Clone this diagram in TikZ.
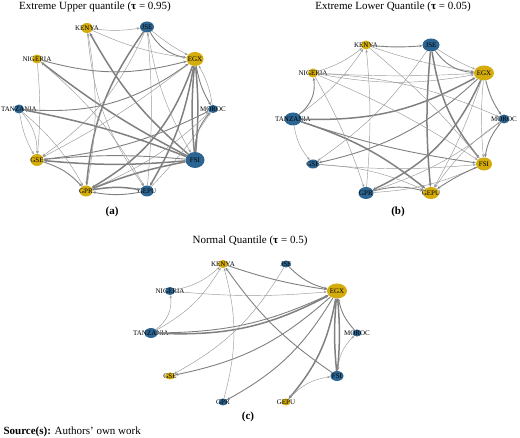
\documentclass[tikz,border=0pt]{standalone}
\usepackage{fontspec}
\setmainfont{Liberation Serif}
\usepackage{xcolor}
\usepackage{tikz}
\usetikzlibrary{shapes.geometric, arrows.meta}

\definecolor{qyellow}{RGB}{212,172,12}
\definecolor{qblue}{RGB}{44,101,145}
\definecolor{qedge}{RGB}{128,128,128}
\newcommand{\nl}[1]{\makebox[0pt]{#1}}

\begin{document}
\begin{tikzpicture}[
    x=1pt, y=-1pt,
    % Network nodes
    yel/.style={ellipse, fill=qyellow, inner sep=0pt, font=\fontsize{7}{8}\selectfont},
    blu/.style={ellipse, fill=qblue, inner sep=0pt, font=\fontsize{7}{8}\selectfont},
    % Edges
    lite/.style={draw=qedge!80, line width=0.45pt, -{Stealth[length=3pt,width=2.4pt]}},
    med/.style={draw=qedge, line width=0.9pt, -{Stealth[length=3.2pt,width=2.6pt]}},
    heavy/.style={draw=qedge, line width=1.5pt, -{Stealth[length=3.5pt,width=3pt]}},
    % Captions
    ttl/.style={font=\fontsize{11}{13}\selectfont},
    tag/.style={font=\fontsize{11}{13}\selectfont\bfseries}
]
    \useasboundingbox (0,0) rectangle (520,438);

    % Panel (a): Extreme Upper quantile
    \node[ttl] (a-title) at (95,7) {Extreme Upper quantile (\textbf{τ} = 0.95)};
    \node[yel, minimum width=12, minimum height=10] (a-ken) at (87,28) {\nl{KENYA}};
    \node[blu, minimum width=14, minimum height=11] (a-jse) at (147,27) {\nl{JSE}};
    \node[yel, minimum width=17, minimum height=14] (a-egx) at (195,59) {\nl{EGX}};
    \node[blu, minimum width=10, minimum height=8] (a-mor) at (213,109) {\nl{MOROC}};
    \node[blu, minimum width=19, minimum height=16] (a-fsi) at (195,160) {\nl{FSI}};
    \node[blu, minimum width=13, minimum height=11] (a-gep) at (147,191) {\nl{GEPU}};
    \node[yel, minimum width=13, minimum height=11] (a-gpr) at (86,191) {\nl{GPR}};
    \node[yel, minimum width=13, minimum height=12] (a-gse) at (37,160) {\nl{GSE}};
    \node[blu, minimum width=10, minimum height=9] (a-tan) at (19,109) {\nl{TANZANIA}};
    \node[yel, minimum width=10, minimum height=9] (a-nig) at (37,59) {\nl{NIGERIA}};
    \node[tag] (a-tag) at (112,212) {(a)};

    \draw[lite] (a-ken) to[bend right=8] (a-jse);
    \draw[med] (a-jse) to[bend right=25] (a-egx);
    \draw[lite] (a-jse) to[bend right=5] (a-egx);
    \draw[lite] (a-ken) to[bend right=8] (a-egx);
    \draw[med] (a-nig) to[bend right=15] (a-egx);
    \draw[med] (a-tan) to[bend right=20] (a-egx);
    \draw[heavy] (a-fsi) to[bend left=10] (a-ken);
    \draw[heavy] (a-fsi) to[bend left=5] (a-nig);
    \draw[heavy] (a-fsi) to[bend right=5] (a-tan);
    \draw[heavy] (a-jse) to[bend right=15] (a-gpr);
    \draw[heavy] (a-egx) to[bend left=20] (a-gpr);
    \draw[heavy] (a-egx) to[bend left=10] (a-gep);
    \draw[heavy] (a-fsi) to[bend right=5] (a-egx);
    \draw[heavy] (a-fsi) to[bend left=5] (a-egx);
    \draw[med] (a-egx) to[bend right=10] (a-mor);
    \draw[lite] (a-mor) to[bend right=10] (a-egx);
    \draw[med] (a-fsi) to[bend left=20] (a-mor);
    \draw[med] (a-gse) to[bend right=10] (a-mor);
    \draw[lite] (a-gpr) to[bend right=10] (a-mor);
    \draw[lite] (a-gep) to[bend right=5] (a-mor);
    \draw[heavy] (a-fsi) to[bend left=5] (a-gse);
    \draw[med] (a-fsi) to[bend right=5] (a-gse);
    \draw[heavy] (a-fsi) to[bend right=5] (a-gpr);
    \draw[heavy] (a-gpr) to[bend left=10] (a-gep);
    \draw[med] (a-gep) to[bend left=10] (a-gpr);
    \draw[med] (a-gse) to[bend left=15] (a-gpr);
    \draw[lite] (a-tan) to[bend left=20] (a-gse);
    \draw[lite] (a-tan) to[bend right=10] (a-gse);
    \draw[lite] (a-tan) to[bend left=10] (a-gpr);
    \draw[lite] (a-nig) to[bend left=5] (a-gse);
    \draw[lite] (a-nig) to[bend left=10] (a-gep);
    \draw[lite] (a-ken) to[bend right=15] (a-gep);
    \draw[lite] (a-gep) to[bend right=5] (a-jse);
    \draw[lite] (a-jse) to[bend left=15] (a-gse);
    \draw[lite] (a-egx) to[bend left=5] (a-gse);
    \draw[lite] (a-jse) to[bend right=10] (a-fsi);
    \draw[lite] (a-gpr) to[bend right=10] (a-ken);

    % Panel (b): Extreme Lower Quantile
    \node[ttl] (b-title) at (393,7) {Extreme Lower Quantile (\textbf{τ} = 0.05)};
    \node[yel, minimum width=10, minimum height=9] (b-ken) at (366,45) {\nl{KENYA}};
    \node[blu, minimum width=17, minimum height=13] (b-jse) at (431,45) {\nl{JSE}};
    \node[yel, minimum width=20, minimum height=15] (b-egx) at (484,73) {\nl{EGX}};
    \node[blu, minimum width=11, minimum height=9] (b-mor) at (504,119) {\nl{MOROC}};
    \node[yel, minimum width=16, minimum height=13] (b-fsi) at (484,164) {\nl{FSI}};
    \node[yel, minimum width=16, minimum height=12] (b-gep) at (431,193) {\nl{GEPU}};
    \node[blu, minimum width=15, minimum height=12] (b-gpr) at (366,193) {\nl{GPR}};
    \node[blu, minimum width=12, minimum height=9] (b-gse) at (313,164) {\nl{GSE}};
    \node[blu, minimum width=17, minimum height=13] (b-tan) at (293,119) {\nl{TANZANIA}};
    \node[yel, minimum width=10, minimum height=9] (b-nig) at (313,73) {\nl{NIGERIA}};
    \node[tag] (b-tag) at (398,212) {(b)};

    \draw[med] (b-ken) to[bend right=5] (b-jse);
    \draw[lite] (b-ken) to[bend right=5] (b-egx);
    \draw[lite] (b-nig) to[bend right=10] (b-egx);
    \draw[lite] (b-nig) to[bend right=3] (b-egx);
    \draw[lite] (b-nig) to[bend right=10] (b-ken);
    \draw[med] (b-tan) to[bend right=30] (b-nig);
    \draw[lite] (b-tan) to[bend right=10] (b-ken);
    \draw[heavy] (b-tan) to[bend right=15] (b-egx);
    \draw[lite] (b-tan) to[bend right=15] (b-gse);
    \draw[med] (b-tan) to[bend right=5] (b-fsi);
    \draw[heavy] (b-tan) to[bend left=10] (b-gep);
    \draw[med] (b-jse) to[bend right=25] (b-egx);
    \draw[lite] (b-jse) to[bend right=5] (b-egx);
    \draw[heavy] (b-jse) to[bend right=15] (b-fsi);
    \draw[heavy] (b-jse) to[bend right=5] (b-gep);
    \draw[lite] (b-jse) to[bend left=10] (b-gse);
    \draw[med] (b-egx) to[bend left=15] (b-gse);
    \draw[heavy] (b-egx) to[bend left=20] (b-gpr);
    \draw[med] (b-egx) to[bend right=10] (b-mor);
    \draw[lite] (b-egx) to[bend right=5] (b-fsi);
    \draw[lite] (b-egx) to[bend left=5] (b-gep);
    \draw[lite] (b-nig) to[bend left=10] (b-mor);
    \draw[lite] (b-nig) to[bend left=5] (b-fsi);
    \draw[lite] (b-ken) to[bend left=5] (b-fsi);
    \draw[lite] (b-gse) to[bend right=5] (b-fsi);
    \draw[lite] (b-gse) to[bend left=10] (b-gep);
    \draw[med] (b-gpr) to[bend left=15] (b-gep);
    \draw[lite] (b-gpr) to[bend right=10] (b-fsi);
    \draw[lite] (b-gpr) to[bend right=10] (b-mor);
    \draw[med] (b-mor) to[bend right=15] (b-fsi);
    \draw[lite] (b-mor) to[bend right=10] (b-gep);
    \draw[lite] (b-nig) to[bend left=5] (b-gpr);
    \draw[lite] (b-gpr) to[bend right=5] (b-ken);
    \draw[med] (b-fsi) to[bend right=5] (b-gep);

    % Panel (c): Normal Quantile
    \node[ttl] (c-title) at (250,241) {Normal Quantile (\textbf{τ} = 0.5)};
    \node[yel, minimum width=10, minimum height=8] (c-ken) at (223,264) {\nl{KENYA}};
    \node[blu, minimum width=10, minimum height=7] (c-jse) at (286,264) {\nl{JSE}};
    \node[yel, minimum width=20, minimum height=15] (c-egx) at (337,291) {\nl{EGX}};
    \node[blu, minimum width=9, minimum height=7] (c-mor) at (357,333) {\nl{MOROC}};
    \node[blu, minimum width=13, minimum height=10] (c-fsi) at (337,376) {\nl{FSI}};
    \node[yel, minimum width=9, minimum height=7] (c-gep) at (286,402) {\nl{GEPU}};
    \node[blu, minimum width=9, minimum height=7] (c-gpr) at (223,402) {\nl{GPR}};
    \node[yel, minimum width=10, minimum height=7] (c-gse) at (170,376) {\nl{GSE}};
    \node[blu, minimum width=13, minimum height=10] (c-tan) at (151,333) {\nl{TANZANIA}};
    \node[blu, minimum width=10, minimum height=8] (c-nig) at (170,291) {\nl{NIGERIA}};
    \node[tag] (c-tag) at (248,417) {(c)};

    \draw[lite] (c-tan) to[bend right=30] (c-nig);
    \draw[lite] (c-tan) to[bend right=15] (c-ken);
    \draw[heavy] (c-tan) to[bend right=15] (c-egx);
    \draw[med] (c-tan) to[bend right=12] (c-egx);
    \draw[lite] (c-nig) to[bend right=5] (c-egx);
    \draw[lite] (c-nig) to[bend right=15] (c-ken);
    \draw[med] (c-ken) to[bend right=5] (c-egx);
    \draw[med] (c-jse) to[bend right=15] (c-egx);
    \draw[lite] (c-jse) to[bend left=15] (c-gse);
    \draw[med] (c-egx) to[bend left=15] (c-gse);
    \draw[med] (c-egx) to[bend left=15] (c-gpr);
    \draw[heavy] (c-egx) to[bend left=15] (c-gep);
    \draw[heavy] (c-egx) to[bend left=5] (c-fsi);
    \draw[heavy] (c-fsi) to[bend left=5] (c-egx);
    \draw[med] (c-mor) to[bend left=15] (c-egx);
    \draw[lite] (c-fsi) to[bend left=20] (c-mor);
    \draw[lite] (c-gep) to[bend left=20] (c-fsi);
    \draw[med] (c-fsi) to[bend left=10] (c-ken);
    \draw[lite] (c-gpr) to[bend right=15] (c-ken);

    % Source line
    \node[anchor=west, font=\fontsize{11}{13}\selectfont] (src) at (0,432) {\textbf{Source(s):} Authors’ own work};
\end{tikzpicture}
\end{document}
